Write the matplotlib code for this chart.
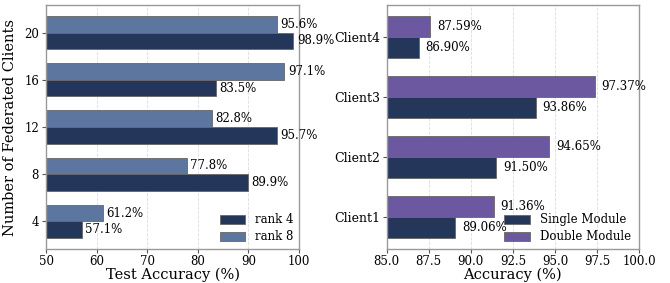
import matplotlib
matplotlib.use("Agg")
import matplotlib.pyplot as plt
import numpy as np

plt.rcParams['font.family'] = ['DejaVu Serif']

clients_n = ["4", "8", "12", "16", "20"]
rank4 = [57.1, 89.9, 95.7, 83.5, 98.9]
rank8 = [61.2, 77.8, 82.8, 97.1, 95.6]

client_names = ["Client1", "Client2", "Client3", "Client4"]
single = [89.06, 91.50, 93.86, 86.90]
double = [91.36, 94.65, 97.37, 87.59]

c_dark = "#243659"
c_light = "#5d76a0"
c_purple = "#6b58a0"
edge = "#666666"

fs_tick = 8.5
fs_ann = 8.5
fs_lab = 10.5

fig = plt.figure(figsize=(6.7, 2.83), dpi=100)
ax1 = fig.add_axes([46/670, 1-249/283, 253/670, 244/283])
ax2 = fig.add_axes([386.7/670, 1-249/283, 252.3/670, 244/283])

h = 0.35
y = np.arange(len(clients_n))
ax1.barh(y - h/2, rank4, h, color=c_dark, edgecolor=edge, linewidth=0.6, label="rank 4", zorder=2)
ax1.barh(y + h/2, rank8, h, color=c_light, edgecolor=edge, linewidth=0.6, label="rank 8", zorder=2)
for yi, v in zip(y, rank4):
    ax1.annotate(f"{v:.1f}%", (v, yi - h/2), xytext=(2.5, 0), textcoords="offset points",
                 va="center", ha="left", fontsize=fs_ann)
for yi, v in zip(y, rank8):
    ax1.annotate(f"{v:.1f}%", (v, yi + h/2), xytext=(2.5, 0), textcoords="offset points",
                 va="center", ha="left", fontsize=fs_ann)
ax1.set_xlim(50, 100)
ax1.set_yticks(y)
ax1.set_yticklabels(clients_n)
ax1.set_xlabel("Test Accuracy (%)", fontsize=fs_lab, labelpad=0)
ax1.set_ylabel("Number of Federated Clients", fontsize=fs_lab, labelpad=5)
ax1.grid(axis="x", linestyle="--", color="#dddddd", linewidth=0.6, zorder=0)
ax1.set_axisbelow(True)
ax1.legend(loc="lower right", frameon=False, fontsize=fs_ann, handlelength=2.2,
           handleheight=0.8, labelspacing=0.35, bbox_to_anchor=(1.02, -0.02))

y2 = np.arange(len(client_names))
ax2.barh(y2 - h/2, single, h, color=c_dark, edgecolor=edge, linewidth=0.6, label="Single Module", zorder=2)
ax2.barh(y2 + h/2, double, h, color=c_purple, edgecolor=edge, linewidth=0.6, label="Double Module", zorder=2)
for yi, v in zip(y2, single):
    ax2.annotate(f"{v:.2f}%", (v, yi - h/2), xytext=(5, 0), textcoords="offset points",
                 va="center", ha="left", fontsize=fs_ann)
for yi, v in zip(y2, double):
    ax2.annotate(f"{v:.2f}%", (v, yi + h/2), xytext=(5, 0), textcoords="offset points",
                 va="center", ha="left", fontsize=fs_ann)
ax2.set_xlim(85, 100)
ax2.set_xticks([85.0, 87.5, 90.0, 92.5, 95.0, 97.5, 100.0])
ax2.set_yticks(y2)
ax2.set_yticklabels(client_names, fontsize=9)
ax2.set_xlabel("Accuracy (%)", fontsize=fs_lab, labelpad=0)
ax2.grid(axis="x", linestyle="--", color="#dddddd", linewidth=0.6, zorder=0)
ax2.set_axisbelow(True)
ax2.legend(loc="lower right", frameon=False, fontsize=fs_ann, handlelength=2.2,
           handleheight=0.8, labelspacing=0.35, bbox_to_anchor=(1.01, -0.02))

for ax in (ax1, ax2):
    for s in ax.spines.values():
        s.set_color("#999999")
        s.set_linewidth(1.0)
    ax.tick_params(axis="x", labelsize=fs_tick, length=3, color="#555555", pad=1)
    ax.tick_params(axis="y", length=3, color="#555555", pad=2)
ax1.tick_params(axis="y", labelsize=fs_tick)

fig.savefig("out.png", dpi=100)
